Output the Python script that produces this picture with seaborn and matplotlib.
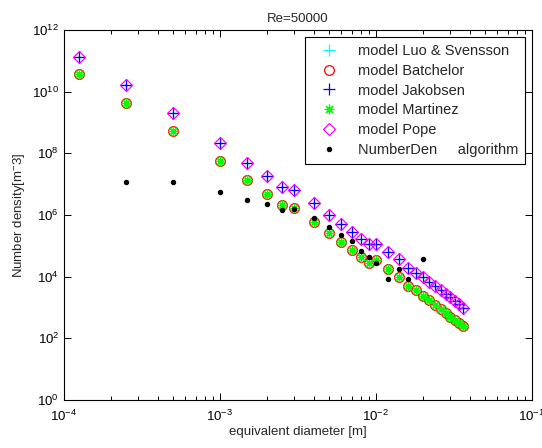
import numpy as np
import pandas as pd
import matplotlib
matplotlib.use("Agg")
import matplotlib.pyplot as plt
import matplotlib.ticker as mticker
import seaborn as sns

# ── data ─────────────────────────────────────────────────────────────────────
diameter = [1.25e-4, 2.5e-4, 5e-4, 1e-3, 1.5e-3, 2e-3, 2.5e-3, 3e-3, 4e-3, 5e-3,
            6e-3, 7e-3, 8e-3, 9e-3, 1e-2, 1.2e-2, 1.4e-2, 1.6e-2, 1.8e-2, 2e-2,
            2.2e-2, 2.4e-2, 2.6e-2, 2.8e-2, 3.0e-2, 3.2e-2, 3.4e-2, 3.6e-2]

# Luo & Svensson / Jakobsen / Pope (upper branch, overlapping)
log_upper = [11.13, 10.22, 9.32, 8.33, 7.70, 7.27, 6.90, 6.80, 6.38, 5.99,
             5.71, 5.44, 5.22, 5.06, 5.07, 4.81, 4.56, 4.29, 4.13, 3.98,
             3.83, 3.70, 3.57, 3.43, 3.33, 3.22, 3.10, 2.98]
# Batchelor / Martinez (lower branch, overlapping)
log_lower = [10.56, 9.64, 8.73, 7.74, 7.14, 6.69, 6.33, 6.24, 5.77, 5.41,
             5.13, 4.88, 4.65, 4.43, 4.53, 4.25, 3.98, 3.71, 3.57, 3.38,
             3.24, 3.08, 2.95, 2.81, 2.70, 2.59, 2.51, 2.40]
# NumberDen algorithm
log_numden = [np.nan, 7.08, 7.08, 6.74, 6.49, 6.35, 6.15, 6.21, 5.89, 5.61,
              5.35, 5.17, 4.84, 4.63, 4.43, 3.92, 4.24, 3.92, np.nan, 4.56,
              np.nan, np.nan, np.nan, np.nan, np.nan, np.nan, np.nan, np.nan]

upper = 10 ** np.array(log_upper)
lower = 10 ** np.array(log_lower)
numden = 10 ** np.array(log_numden)

asterisk = (8, 2, 0)  # MATLAB-like '*' (plus and cross)
series = [
    # label, values, marker, size, colour, filled
    ("model Luo & Svensson", upper, "+", 8, "#00ffff", False),
    ("model Batchelor", lower, "o", 7, "#ff0000", False),
    ("model Jakobsen", upper, "+", 8, "#0000ff", False),
    ("model Martinez", lower, asterisk, 7, "#00ff00", False),
    ("model Pope", upper, "D", 6, "#ff00ff", False),
    ("NumberDen     algorithm", numden, ".", 6, "#000000", True),
]

sns.set_style("ticks")
plt.rcParams["font.family"] = ["Liberation Sans", "DejaVu Sans"]
plt.rcParams["mathtext.default"] = "regular"

fig = plt.figure(figsize=(5.42, 4.48), dpi=100)
ax = fig.add_axes([0.118, 0.107, 0.8635, 0.826])

for label, values, marker, size, color, filled in series:
    df = pd.DataFrame({"d": diameter, "n": values}).dropna()
    sns.lineplot(
        data=df, x="d", y="n", ax=ax, label=label,
        linestyle="", marker=marker, markersize=size,
        markeredgecolor=color, markerfacecolor=color if filled else "none",
        markeredgewidth=0.9, color=color, estimator=None, sort=False,
    )

ax.set_xscale("log")
ax.set_yscale("log")
ax.set_xlim(1e-4, 1e-1)
ax.set_ylim(1e0, 1e12)

ax.yaxis.set_major_locator(mticker.FixedLocator([10.0 ** k for k in range(0, 13, 2)]))
ax.yaxis.set_minor_locator(mticker.NullLocator())
ax.xaxis.set_major_locator(mticker.LogLocator(base=10, numticks=10))
ax.xaxis.set_minor_locator(mticker.LogLocator(base=10, subs=np.arange(2, 10), numticks=20))
ax.xaxis.set_minor_formatter(mticker.NullFormatter())

ax.tick_params(which="both", direction="in", top=True, right=True, labelsize=9.5, colors="black")
ax.tick_params(which="major", length=5, width=0.7)
ax.tick_params(which="minor", length=3, width=0.7)
ax.tick_params(axis="x", which="major", pad=6)
for spine in ax.spines.values():
    spine.set_visible(True)
    spine.set_linewidth(0.8)
    spine.set_color("black")

ax.set_title("Re=50000", fontsize=9.5)
ax.set_xlabel("equivalent diameter [m]", fontsize=9.5, labelpad=2)
ax.set_ylabel("Number density[m$^{-}$3]", fontsize=9.5)

leg = ax.legend(loc="upper right", fontsize=10.5, frameon=True, fancybox=False,
                edgecolor="black", framealpha=1, borderpad=0.5, labelspacing=0.4,
                handlelength=2.2, handletextpad=0.9, borderaxespad=0.45)
leg.get_frame().set_linewidth(0.8)

fig.savefig("out.png", dpi=100)
